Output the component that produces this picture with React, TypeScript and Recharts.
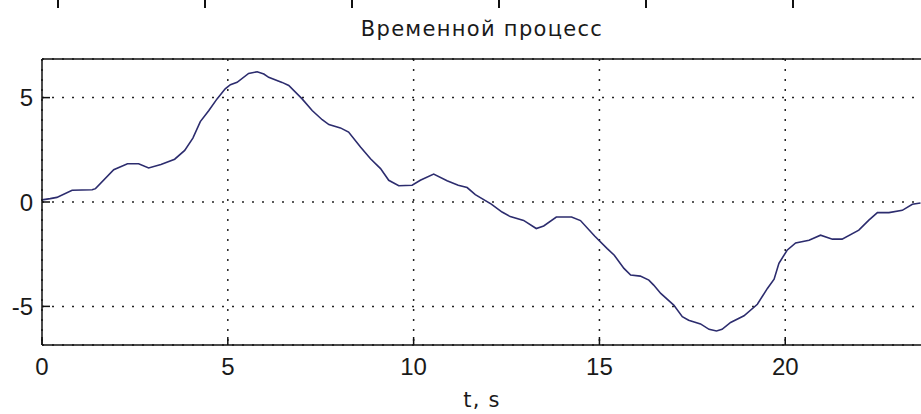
import { LineChart, Line, XAxis, YAxis, CartesianGrid } from 'recharts'

// time samples (s) and process values
const times = [
  0, 0.22, 0.4, 0.81, 1.35, 1.44, 1.93, 2.3, 2.6, 2.87, 3.2, 3.57, 3.84, 4.06, 4.26, 4.49, 4.71, 4.93,
  5.07, 5.25, 5.56, 5.79, 5.97, 6.1, 6.46, 6.64, 7.0, 7.27, 7.54, 7.72, 8.03, 8.25, 8.57, 8.84, 9.11,
  9.33, 9.6, 9.96, 10.18, 10.54, 10.9, 11.2, 11.44, 11.66, 12.09, 12.38, 12.6, 12.96, 13.3, 13.5,
  13.84, 14.25, 14.49, 14.87, 15.21, 15.4, 15.66, 15.84, 16.1, 16.33, 16.46, 16.65, 17.0, 17.23,
  17.4, 17.72, 17.95, 18.15, 18.3, 18.53, 18.89, 19.25, 19.52, 19.7, 19.83, 20.05, 20.28, 20.64,
  20.95, 21.27, 21.53, 21.98, 22.25, 22.48, 22.79, 23.15, 23.42, 23.64,
]
const values = [
  0.1, 0.16, 0.22, 0.56, 0.59, 0.64, 1.55, 1.83, 1.83, 1.63, 1.8, 2.05, 2.47, 3.06, 3.85, 4.38, 4.94,
  5.42, 5.62, 5.73, 6.16, 6.24, 6.13, 5.97, 5.73, 5.58, 4.94, 4.38, 3.94, 3.71, 3.55, 3.35, 2.63,
  2.07, 1.6, 1.04, 0.78, 0.8, 1.04, 1.34, 1.02, 0.8, 0.69, 0.35, -0.1, -0.48, -0.7, -0.88, -1.27,
  -1.15, -0.72, -0.72, -0.89, -1.63, -2.23, -2.55, -3.18, -3.5, -3.55, -3.74, -3.98, -4.38, -4.94,
  -5.49, -5.66, -5.84, -6.1, -6.18, -6.1, -5.77, -5.45, -4.9, -4.14, -3.7, -2.94, -2.31, -1.96,
  -1.83, -1.59, -1.78, -1.78, -1.35, -0.87, -0.51, -0.51, -0.4, -0.11, -0.05,
]
const xTicks = [0, 5, 10, 15, 20]
const yTicks = [-5, 0, 5]
// bottom ticks of the subplot above, cut off by the crop
const upperTicks = [58, 205, 352, 499, 646, 793]

const rows = times.map((t, i) => ({ t, v: values[i] }))

const axisStroke = { stroke: '#111', strokeWidth: 1.5 }
const tickFont = { fill: '#1a1a1a', fontSize: 24, fontFamily: 'Liberation Sans, Arial, sans-serif' }
const labelFont = 'DejaVu Sans, sans-serif'

export default function App() {
  return (
    <div
      style={{
        position: 'fixed',
        left: 0,
        top: 0,
        width: 921,
        height: 414,
        overflow: 'hidden',
        background: '#fff',
      }}
    >
      <div
        style={{
          position: 'absolute',
          left: 42,
          width: 880,
          top: 17,
          textAlign: 'center',
          fontFamily: labelFont,
          fontSize: 21,
          letterSpacing: 1.3,
          color: '#1a1a1a',
        }}
      >
        Временной процесс
      </div>
      <div
        style={{
          position: 'absolute',
          left: 42,
          width: 880,
          top: 388,
          textAlign: 'center',
          fontFamily: labelFont,
          fontSize: 21,
          letterSpacing: 1.3,
          color: '#1a1a1a',
        }}
      >
        t, s
      </div>
      <div style={{ position: 'absolute', left: 0, top: 0 }}>
        <LineChart width={930} height={414} data={rows} margin={{ top: 58, right: 8, left: 0, bottom: 0 }}>
          <CartesianGrid stroke="#222" strokeDasharray="2 8" strokeWidth={1.5} />
          <XAxis
            dataKey="t"
            type="number"
            domain={[0, 23.68]}
            ticks={xTicks}
            allowDataOverflow
            height={69}
            tickSize={-8}
            tickMargin={21}
            axisLine={axisStroke}
            tickLine={axisStroke}
            tick={tickFont}
          />
          <XAxis
            xAxisId="top"
            orientation="top"
            dataKey="t"
            type="number"
            domain={[0, 23.68]}
            ticks={xTicks}
            allowDataOverflow
            height={1}
            tickSize={-8}
            axisLine={axisStroke}
            tickLine={axisStroke}
            tick={false}
          />
          <YAxis
            type="number"
            domain={[-6.85, 6.85]}
            ticks={yTicks}
            allowDataOverflow
            width={42}
            tickSize={-8}
            tickMargin={17}
            axisLine={axisStroke}
            tickLine={axisStroke}
            tick={tickFont}
          />
          <Line
            dataKey="v"
            type="linear"
            stroke="#2c2c6e"
            strokeWidth={1.6}
            dot={false}
            isAnimationActive={false}
          />
        </LineChart>
      </div>
      <svg
        width={921}
        height={12}
        style={{ position: 'absolute', left: 0, top: 0 }}
      >
        {upperTicks.map((x) => (
          <line key={x} x1={x} x2={x} y1={0} y2={8} stroke="#111" strokeWidth={2} />
        ))}
      </svg>
    </div>
  )
}
